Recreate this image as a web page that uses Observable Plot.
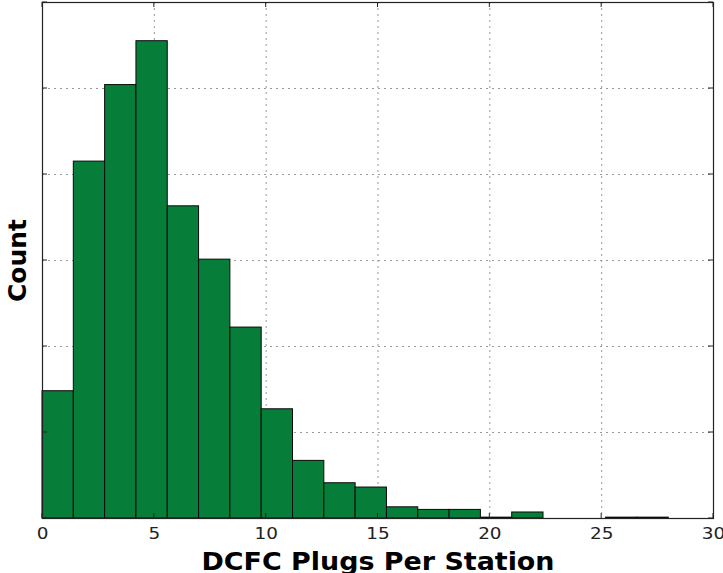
<!DOCTYPE html>
<html>
<head>
<meta charset="utf-8">
<script src="https://cdn.jsdelivr.net/npm/d3@7"></script>
<script src="https://cdn.jsdelivr.net/npm/@observablehq/plot@0.6"></script>
<style>
  html, body { margin: 0; padding: 0; background: #fff; }
  svg { display: block; }
</style>
</head>
<body>
<div id="chart"></div>
<script>
// Histogram bin edges (plugs per station) and counts per bin
const binEdges = [0, 1.4, 2.8, 4.2, 5.6, 7.0, 8.4, 9.8, 11.2, 12.6, 14.0, 15.4, 16.8, 18.2, 19.6, 21.0, 22.4, 23.8, 25.2, 26.6, 28.0];
const counts   = [148, 415, 504, 555, 363, 301, 222, 127, 67, 41, 36, 13, 10, 10, 1, 7, 0, 0, 1, 1];
const xTicks = [0, 5, 10, 15, 20, 25, 30];
const yTicks = [0, 100, 200, 300, 400, 500, 600];
const xLabel = "DCFC Plugs Per Station";
const yLabel = "Count";

const bins = counts.map((c, i) => ({x1: binEdges[i], x2: binEdges[i + 1], count: c}));

const chart = Plot.plot({
  width: 723,
  height: 573,
  marginLeft: 42,
  marginRight: 10,
  marginTop: 2,
  marginBottom: 55,
  style: {fontFamily: "DejaVu Sans", background: "#fff", color: "#222"},
  x: {domain: [0, 30], axis: null},
  y: {domain: [0, 600], axis: null},
  marks: [
    Plot.ruleX(xTicks, {x: d => d, stroke: "#999", strokeDasharray: "2,4", strokeWidth: 1}),
    Plot.ruleY(yTicks.slice(1, -1), {y: d => d, stroke: "#999", strokeDasharray: "2,4", strokeWidth: 1}),
    Plot.rectY(bins, {x1: "x1", x2: "x2", y: "count", fill: "#077d3a", stroke: "#0a0a0a", strokeWidth: 1}),
    Plot.frame({stroke: "#222", strokeWidth: 1.2}),
    Plot.axisX(xTicks, {tickSize: 0, tickPadding: 9, fontSize: 16, label: null, fill: "#222"}),
    Plot.text([xLabel], {text: d => d, frameAnchor: "bottom", textAnchor: "middle", lineAnchor: "middle", dy: 44, fontSize: 24, fontWeight: "bold", fill: "#000"}),
    Plot.text([yLabel], {text: d => d, frameAnchor: "left", textAnchor: "middle", lineAnchor: "middle", dx: -25, rotate: -90, fontSize: 25, fontWeight: "bold", fill: "#000"})
  ]
});

document.getElementById("chart").appendChild(chart);

// inward tick marks on all four sides, placed through Plot's own scales
const sx = chart.scale("x"), sy = chart.scale("y");
const g = d3.select(chart).append("g").attr("stroke", "#222").attr("stroke-width", 1);
const [y0, y1] = [sy.apply(0), sy.apply(600)];
const [x0, x1] = [sx.apply(0), sx.apply(30)];
const tl = 5;
xTicks.forEach(v => {
  const px = sx.apply(v);
  g.append("line").attr("x1", px).attr("x2", px).attr("y1", y0).attr("y2", y0 - tl);
  g.append("line").attr("x1", px).attr("x2", px).attr("y1", y1).attr("y2", y1 + tl);
});
yTicks.forEach(v => {
  const py = sy.apply(v);
  g.append("line").attr("x1", x0).attr("x2", x0 + tl).attr("y1", py).attr("y2", py);
  g.append("line").attr("x1", x1).attr("x2", x1 - tl).attr("y1", py).attr("y2", py);
});

// slight horizontal stretch of text, as in the reference image
d3.select(chart).selectAll("text").each(function() {
  const t = this.textContent;
  if (t === xLabel) {
    this.setAttribute("textLength", 353);
    this.setAttribute("lengthAdjust", "spacingAndGlyphs");
  } else if (xTicks.map(String).includes(t)) {
    const L = this.getComputedTextLength();
    this.setAttribute("textLength", L * 1.15);
    this.setAttribute("lengthAdjust", "spacingAndGlyphs");
  }
});
</script>
</body>
</html>
